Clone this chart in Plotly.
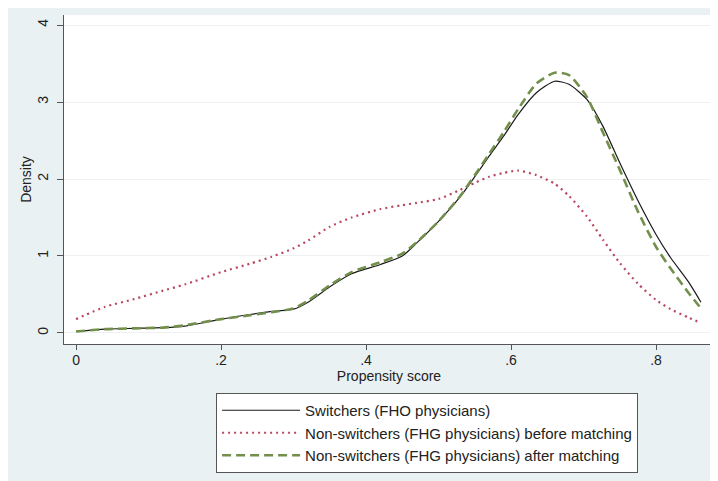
import plotly.graph_objects as go

# Propensity score grid
x_score = [0, 0.04, 0.08, 0.12, 0.15, 0.2, 0.24, 0.27, 0.30, 0.32, 0.35, 0.38, 0.42,
           0.45, 0.47, 0.50, 0.53, 0.55, 0.57, 0.59, 0.61, 0.635, 0.66, 0.68, 0.705,
           0.727, 0.75, 0.775, 0.80, 0.82, 0.845, 0.862]

switchers = [0.02, 0.05, 0.06, 0.07, 0.09, 0.18, 0.24, 0.28, 0.31, 0.40, 0.60, 0.77, 0.89,
             1.00, 1.17, 1.45, 1.77, 2.03, 2.30, 2.56, 2.84, 3.12, 3.27, 3.23, 3.03,
             2.68, 2.21, 1.72, 1.28, 0.98, 0.66, 0.40]

non_before = [0.18, 0.34, 0.44, 0.55, 0.63, 0.79, 0.90, 0.99, 1.10, 1.20, 1.38, 1.50, 1.61,
              1.66, 1.69, 1.74, 1.86, 1.95, 2.03, 2.08, 2.11, 2.05, 1.94, 1.78, 1.51,
              1.21, 0.91, 0.64, 0.43, 0.31, 0.20, 0.13]

non_after = [0.02, 0.05, 0.06, 0.07, 0.10, 0.18, 0.23, 0.27, 0.32, 0.42, 0.62, 0.79, 0.92,
             1.03, 1.18, 1.45, 1.78, 2.05, 2.33, 2.61, 2.91, 3.24, 3.38, 3.35, 3.06,
             2.60, 2.12, 1.58, 1.12, 0.84, 0.52, 0.32]

x_ticks = [0, 0.2, 0.4, 0.6, 0.8]
x_tick_labels = ["0", ".2", ".4", ".6", ".8"]
y_ticks = [0, 1, 2, 3, 4]
y_tick_labels = ["0", "1", "2", "3", "4"]

names = ["Switchers (FHO physicians)",
         "Non-switchers (FHG physicians) before matching",
         "Non-switchers (FHG physicians) after matching"]

fig = go.Figure()
fig.add_trace(go.Scatter(x=x_score, y=switchers, mode="lines", name=names[0],
                         line=dict(color="#1a1a1a", width=1.2, shape="spline", smoothing=0.6)))
fig.add_trace(go.Scatter(x=x_score, y=non_before, mode="lines", name=names[1],
                         line=dict(color="#b8485f", width=2.2, dash="2px,4px", shape="spline", smoothing=0.6)))
fig.add_trace(go.Scatter(x=x_score, y=non_after, mode="lines", name=names[2],
                         line=dict(color="#738f4c", width=2.6, dash="9px,5px", shape="spline", smoothing=0.6)))

font = "Liberation Sans, Arial, sans-serif"
fig.update_layout(
    width=710, height=473,
    margin=dict(l=56, r=4, t=7, b=137),
    paper_bgcolor="#eaf1f3",
    plot_bgcolor="white",
    font=dict(family=font, size=14, color="#222"),
    showlegend=True,
    legend=dict(
        x=0.234, y=-0.149, xanchor="left", yanchor="top",
        bgcolor="white", bordercolor="#555", borderwidth=1,
        font=dict(family=font, size=15, color="#222"),
        itemwidth=78, traceorder="normal",
    ),
    xaxis=dict(
        range=[-0.0166, 0.88], tickvals=x_ticks, ticktext=x_tick_labels,
        showgrid=False, zeroline=False, showline=True, linecolor="#555", linewidth=1,
        ticks="outside", ticklen=5, tickcolor="#555", ticklabelstandoff=-2,
        tickfont=dict(size=14, color="#222"),
        title=dict(text="Propensity score", font=dict(size=14, color="#222"), standoff=1),
    ),
    yaxis=dict(
        range=[-0.143, 4.13], tickvals=y_ticks, ticktext=y_tick_labels,
        showgrid=True, gridcolor="#edf1f2", gridwidth=1, zeroline=False,
        showline=True, linecolor="#555", linewidth=1,
        ticks="outside", ticklen=6, tickcolor="#555", tickangle=-90, ticklabelstandoff=3,
        tickfont=dict(size=14, color="#222"),
        title=dict(text="Density", font=dict(size=14, color="#222"), standoff=0),
    ),
)

fig.write_html("out.html")
